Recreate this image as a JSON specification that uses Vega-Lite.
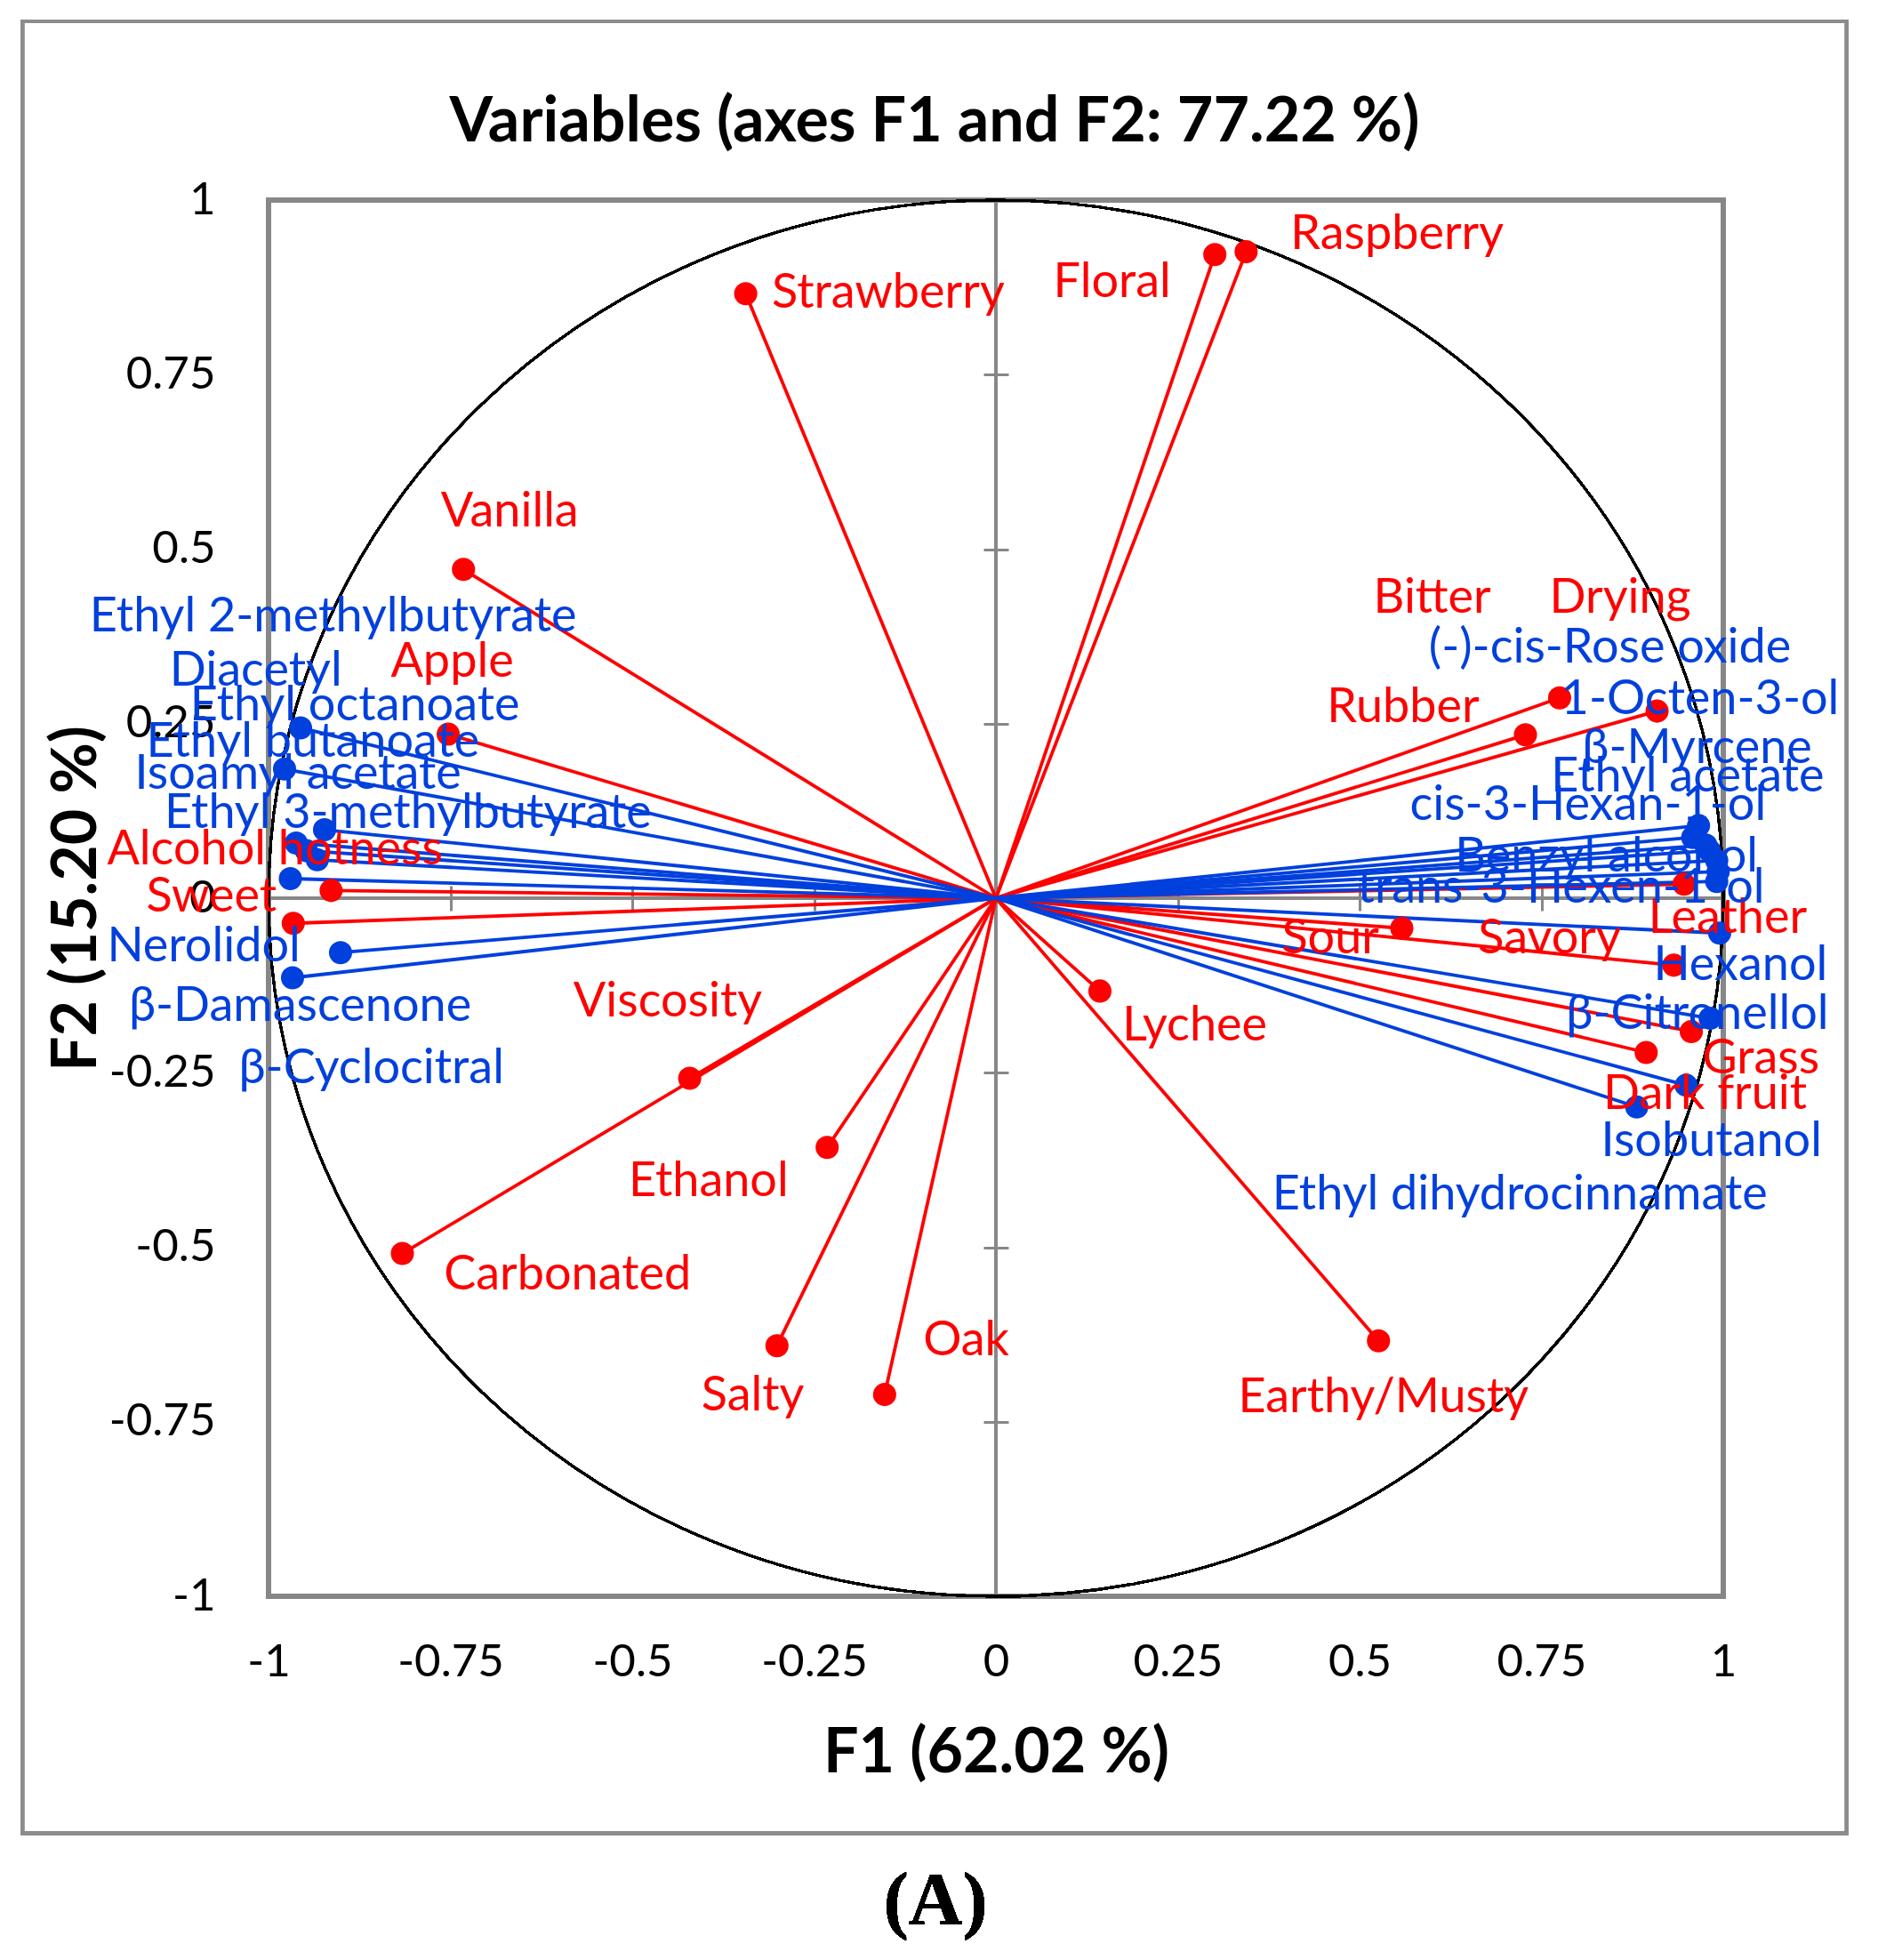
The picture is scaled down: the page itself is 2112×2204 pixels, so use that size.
{
  "$schema": "https://vega.github.io/schema/vega-lite/v6.json",
  "autosize": "none",
  "width": 1636,
  "height": 1570,
  "padding": {"left": 302, "top": 225, "right": 174, "bottom": 409},
  "background": "white",
  "config": {
    "font": "Lato",
    "view": {"stroke": "#878787", "strokeWidth": 6}
  },
  "title": {
    "text": "Variables (axes F1 and F2: 77.22 %)",
    "font": "Lato",
    "fontSize": 70,
    "fontWeight": "bold",
    "color": "black",
    "frame": "bounds",
    "anchor": "middle",
    "baseline": "middle",
    "offset": -186
  },
  "data": {
    "values": [
      {"name": "Strawberry", "group": "Sensory", "x": -0.344, "y": 0.866, "lx": -0.308, "ly": 0.866},
      {"name": "Floral", "group": "Sensory", "x": 0.301, "y": 0.922, "lx": 0.079, "ly": 0.882},
      {"name": "Raspberry", "group": "Sensory", "x": 0.344, "y": 0.926, "lx": 0.405, "ly": 0.95},
      {"name": "Vanilla", "group": "Sensory", "x": -0.732, "y": 0.471, "lx": -0.763, "ly": 0.553},
      {"name": "Apple", "group": "Sensory", "x": -0.753, "y": 0.235, "lx": -0.832, "ly": 0.338},
      {"name": "Alcohol hotness", "group": "Sensory", "x": -0.914, "y": 0.011, "lx": -1.222, "ly": 0.069},
      {"name": "Sweet", "group": "Sensory", "x": -0.966, "y": -0.036, "lx": -1.168, "ly": 0.001},
      {"name": "Viscosity", "group": "Sensory", "x": -0.421, "y": -0.258, "lx": -0.581, "ly": -0.149},
      {"name": "Carbonated", "group": "Sensory", "x": -0.816, "y": -0.509, "lx": -0.759, "ly": -0.54},
      {"name": "Ethanol", "group": "Sensory", "x": -0.232, "y": -0.357, "lx": -0.505, "ly": -0.407},
      {"name": "Salty", "group": "Sensory", "x": -0.301, "y": -0.641, "lx": -0.405, "ly": -0.714},
      {"name": "Oak", "group": "Sensory", "x": -0.153, "y": -0.711, "lx": -0.1, "ly": -0.634},
      {"name": "Lychee", "group": "Sensory", "x": 0.143, "y": -0.133, "lx": 0.174, "ly": -0.183},
      {"name": "Earthy/Musty", "group": "Sensory", "x": 0.526, "y": -0.634, "lx": 0.333, "ly": -0.716},
      {"name": "Sour", "group": "Sensory", "x": 0.558, "y": -0.043, "lx": 0.393, "ly": -0.059},
      {"name": "Savory", "group": "Sensory", "x": 0.932, "y": -0.096, "lx": 0.663, "ly": -0.059},
      {"name": "Leather", "group": "Sensory", "x": 0.946, "y": 0.02, "lx": 0.897, "ly": -0.029},
      {"name": "Grass", "group": "Sensory", "x": 0.956, "y": -0.191, "lx": 0.971, "ly": -0.231},
      {"name": "Dark fruit", "group": "Sensory", "x": 0.894, "y": -0.221, "lx": 0.835, "ly": -0.281},
      {"name": "Bitter", "group": "Sensory", "x": 0.775, "y": 0.287, "lx": 0.519, "ly": 0.429},
      {"name": "Drying", "group": "Sensory", "x": 0.909, "y": 0.268, "lx": 0.761, "ly": 0.429},
      {"name": "Rubber", "group": "Sensory", "x": 0.728, "y": 0.234, "lx": 0.455, "ly": 0.272},
      {"name": "Ethyl 2-methylbutyrate", "group": "Compound", "x": -0.956, "y": 0.244, "lx": -1.246, "ly": 0.402},
      {"name": "Diacetyl", "group": "Compound", "x": -0.978, "y": 0.185, "lx": -1.136, "ly": 0.325},
      {"name": "Ethyl octanoate", "group": "Compound", "x": -0.923, "y": 0.098, "lx": -1.108, "ly": 0.275},
      {"name": "Ethyl butanoate", "group": "Compound", "x": -0.962, "y": 0.079, "lx": -1.168, "ly": 0.223},
      {"name": "Isoamyl acetate", "group": "Compound", "x": -0.948, "y": 0.068, "lx": -1.184, "ly": 0.177},
      {"name": "Ethyl 3-methylbutyrate", "group": "Compound", "x": -0.933, "y": 0.055, "lx": -1.143, "ly": 0.121},
      {"name": "β-Cyclocitral", "group": "Compound", "x": -0.97, "y": 0.028, "lx": -1.041, "ly": -0.244},
      {"name": "Nerolidol", "group": "Compound", "x": -0.901, "y": -0.078, "lx": -1.222, "ly": -0.07},
      {"name": "β-Damascenone", "group": "Compound", "x": -0.967, "y": -0.114, "lx": -1.192, "ly": -0.156},
      {"name": "(-)-cis-Rose oxide", "group": "Compound", "x": 0.966, "y": 0.104, "lx": 0.595, "ly": 0.358},
      {"name": "1-Octen-3-ol", "group": "Compound", "x": 0.958, "y": 0.087, "lx": 0.777, "ly": 0.284},
      {"name": "β-Myrcene", "group": "Compound", "x": 0.976, "y": 0.076, "lx": 0.806, "ly": 0.214},
      {"name": "Ethyl acetate", "group": "Compound", "x": 0.981, "y": 0.068, "lx": 0.763, "ly": 0.173},
      {"name": "cis-3-Hexan-1-ol", "group": "Compound", "x": 0.991, "y": 0.054, "lx": 0.569, "ly": 0.132},
      {"name": "Benzyl alcohol", "group": "Compound", "x": 0.993, "y": 0.038, "lx": 0.631, "ly": 0.059},
      {"name": "trans-3-Hexen-1-ol", "group": "Compound", "x": 0.991, "y": 0.024, "lx": 0.497, "ly": 0.014},
      {"name": "Hexanol", "group": "Compound", "x": 0.995, "y": -0.05, "lx": 0.904, "ly": -0.097},
      {"name": "β-Citronellol", "group": "Compound", "x": 0.982, "y": -0.172, "lx": 0.784, "ly": -0.167},
      {"name": "Isobutanol", "group": "Compound", "x": 0.949, "y": -0.268, "lx": 0.832, "ly": -0.349},
      {"name": "Ethyl dihydrocinnamate", "group": "Compound", "x": 0.881, "y": -0.299, "lx": 0.38, "ly": -0.426}
    ]
  },
  "resolve": {"axis": {"x": "independent", "y": "independent"}},
  "layer": [
    {
      "mark": {"type": "rule", "color": "#878787", "strokeWidth": 3},
      "encoding": {
        "x": {
          "datum": 0, "type": "quantitative",
          "scale": {"domain": [-1, 1], "nice": false, "zero": false},
          "axis": {
            "orient": "bottom", "offset": -799, "values": [-0.75, -0.5, -0.25, 0.25, 0.5, 0.75],
            "domain": false, "labels": false, "grid": false, "ticks": true,
            "tickSize": 28, "tickColor": "#878787", "tickWidth": 3, "title": null
          }
        }
      }
    },
    {
      "mark": {"type": "rule", "color": "#878787", "strokeWidth": 3},
      "encoding": {
        "y": {
          "datum": 0, "type": "quantitative",
          "scale": {"domain": [-1, 1], "nice": false, "zero": false},
          "axis": {
            "orient": "left", "offset": -832, "values": [-0.75, -0.5, -0.25, 0.25, 0.5, 0.75],
            "domain": false, "labels": false, "grid": false, "ticks": true,
            "tickSize": 28, "tickColor": "#878787", "tickWidth": 3, "title": null
          }
        }
      }
    },
    {
      "mark": {
        "type": "point", "filled": false, "opacity": 1,
        "shape": "M-1,0A1,0.9597,0,0,1,1,0A1,0.9597,0,0,1,-1,0Z",
        "size": 2676496, "stroke": "black", "strokeWidth": 2.5
      },
      "encoding": {
        "x": {
          "datum": 0, "type": "quantitative",
          "scale": {"domain": [-1, 1], "nice": false, "zero": false},
          "axis": {
            "orient": "bottom", "values": [-1, -0.75, -0.5, -0.25, 0, 0.25, 0.5, 0.75, 1],
            "labelExpr": "replace(format(datum.value, '~g'), '−', '-')",
            "domain": false, "ticks": false, "grid": false, "tickSize": 0,
            "labelFont": "Lato", "labelFontSize": 51, "labelColor": "black",
            "labelBaseline": "middle", "labelPadding": 74, "labelFlush": false, "labelOverlap": false,
            "title": "F1 (62.02 %)", "titleFont": "Lato", "titleFontSize": 70, "titleFontWeight": "bold",
            "titleColor": "black", "titleX": 818, "titleY": 176, "titleBaseline": "middle", "titleAlign": "center"
          }
        },
        "y": {
          "datum": 0, "type": "quantitative",
          "scale": {"domain": [-1, 1], "nice": false, "zero": false},
          "axis": {
            "orient": "left", "values": [-1, -0.75, -0.5, -0.25, 0, 0.25, 0.5, 0.75, 1],
            "labelExpr": "replace(format(datum.value, '~g'), '−', '-')",
            "domain": false, "ticks": false, "grid": false, "tickSize": 0,
            "labelFont": "Lato", "labelFontSize": 51, "labelColor": "black",
            "labelBaseline": "middle", "labelPadding": 60, "labelFlush": false, "labelOverlap": false,
            "title": "F2 (15.20 %)", "titleFont": "Lato", "titleFontSize": 70, "titleFontWeight": "bold",
            "titleColor": "black", "titleX": -216, "titleY": 785, "titleAngle": -90,
            "titleBaseline": "middle", "titleAlign": "center"
          }
        }
      }
    },
    {
      "mark": {"type": "rect", "fill": null, "fillOpacity": 0, "stroke": "#8c8c8c", "strokeWidth": 4},
      "encoding": {
        "x": {"datum": -1.3386, "type": "quantitative", "scale": {"domain": [-1, 1], "nice": false, "zero": false}, "axis": null},
        "x2": {"datum": 1.1699},
        "y": {"datum": 1.2561, "type": "quantitative", "scale": {"domain": [-1, 1], "nice": false, "zero": false}, "axis": null},
        "y2": {"datum": -1.3395}
      }
    },
    {
      "mark": {"type": "rule", "strokeWidth": 3.8},
      "encoding": {
        "x": {"field": "x", "type": "quantitative", "scale": {"domain": [-1, 1], "nice": false, "zero": false}, "axis": null},
        "y": {"field": "y", "type": "quantitative", "scale": {"domain": [-1, 1], "nice": false, "zero": false}, "axis": null},
        "x2": {"datum": 0},
        "y2": {"datum": 0},
        "color": {"field": "group", "type": "nominal", "scale": {"domain": ["Sensory", "Compound"], "range": ["#FF0000", "#0040DD"]}, "legend": null}
      }
    },
    {
      "mark": {"type": "circle", "size": 680, "opacity": 1},
      "encoding": {
        "x": {"field": "x", "type": "quantitative", "scale": {"domain": [-1, 1], "nice": false, "zero": false}, "axis": null},
        "y": {"field": "y", "type": "quantitative", "scale": {"domain": [-1, 1], "nice": false, "zero": false}, "axis": null},
        "color": {"field": "group", "type": "nominal", "scale": {"domain": ["Sensory", "Compound"], "range": ["#FF0000", "#0040DD"]}, "legend": null}
      }
    },
    {
      "mark": {"type": "text", "align": "left", "baseline": "middle", "font": "Lato", "fontSize": 54},
      "encoding": {
        "x": {"field": "lx", "type": "quantitative", "scale": {"domain": [-1, 1], "nice": false, "zero": false}, "axis": null},
        "y": {"field": "ly", "type": "quantitative", "scale": {"domain": [-1, 1], "nice": false, "zero": false}, "axis": null},
        "text": {"field": "name"},
        "color": {"field": "group", "type": "nominal", "scale": {"domain": ["Sensory", "Compound"], "range": ["#FF0000", "#0040DD"]}, "legend": null}
      }
    },
    {
      "mark": {"type": "text", "align": "center", "baseline": "middle", "font": "Liberation Serif", "fontWeight": "bold", "fontSize": 84, "color": "black"},
      "encoding": {
        "x": {"datum": -0.083, "type": "quantitative", "scale": {"domain": [-1, 1], "nice": false, "zero": false}, "axis": null},
        "y": {"datum": -1.438, "type": "quantitative", "scale": {"domain": [-1, 1], "nice": false, "zero": false}, "axis": null},
        "text": {"value": "(A)"}
      }
    }
  ]
}
